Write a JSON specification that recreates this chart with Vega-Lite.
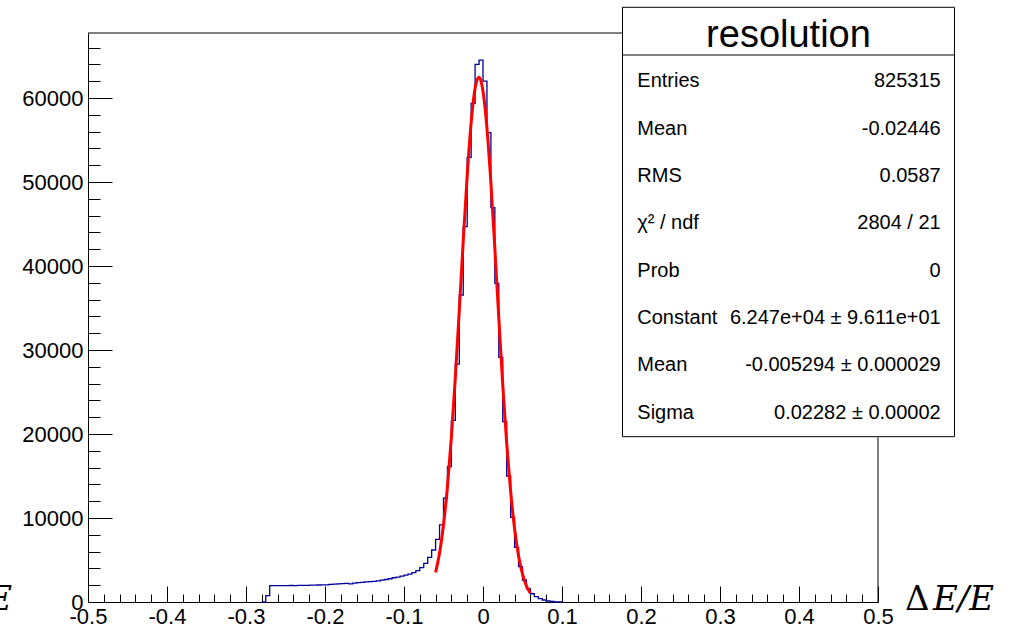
{
  "$schema": "https://vega.github.io/schema/vega-lite/v6.json",
  "width": 790,
  "height": 569,
  "autosize": {"type": "none"},
  "padding": {"left": 88, "top": 33, "right": 135, "bottom": 26},
  "background": "#ffffff",
  "config": {
    "view": {"stroke": null},
    "axis": {"grid": false, "domainColor": "#000000", "tickColor": "#000000", "labelColor": "#000000", "labelFont": "Liberation Sans", "labelFontSize": 22, "domainWidth": 1, "tickWidth": 1}
  },
  "datasets": {
    "hist": [
      {"x": -0.28, "n": 0}, {"x": -0.275, "n": 750}, {"x": -0.27, "n": 1950}, {"x": -0.265, "n": 1960},
      {"x": -0.26, "n": 1950}, {"x": -0.255, "n": 1945}, {"x": -0.25, "n": 1960}, {"x": -0.245, "n": 1965},
      {"x": -0.24, "n": 1955}, {"x": -0.235, "n": 1975}, {"x": -0.23, "n": 1985}, {"x": -0.225, "n": 1980},
      {"x": -0.22, "n": 2005}, {"x": -0.215, "n": 2000}, {"x": -0.21, "n": 2025}, {"x": -0.205, "n": 2040},
      {"x": -0.2, "n": 2030}, {"x": -0.195, "n": 2090}, {"x": -0.19, "n": 2120}, {"x": -0.185, "n": 2150},
      {"x": -0.18, "n": 2190}, {"x": -0.175, "n": 2220}, {"x": -0.17, "n": 2150}, {"x": -0.165, "n": 2250},
      {"x": -0.16, "n": 2310}, {"x": -0.155, "n": 2340}, {"x": -0.15, "n": 2390}, {"x": -0.145, "n": 2420},
      {"x": -0.14, "n": 2460}, {"x": -0.135, "n": 2510}, {"x": -0.13, "n": 2600}, {"x": -0.125, "n": 2680},
      {"x": -0.12, "n": 2770}, {"x": -0.115, "n": 2890}, {"x": -0.11, "n": 2970}, {"x": -0.105, "n": 3090},
      {"x": -0.1, "n": 3210}, {"x": -0.095, "n": 3330}, {"x": -0.09, "n": 3490}, {"x": -0.085, "n": 3730},
      {"x": -0.08, "n": 4090}, {"x": -0.075, "n": 4600}, {"x": -0.07, "n": 5320}, {"x": -0.065, "n": 6190},
      {"x": -0.06, "n": 7460}, {"x": -0.055, "n": 9170}, {"x": -0.05, "n": 12350}, {"x": -0.045, "n": 16110},
      {"x": -0.04, "n": 21630}, {"x": -0.035, "n": 28330}, {"x": -0.03, "n": 36550}, {"x": -0.025, "n": 44680},
      {"x": -0.02, "n": 52940}, {"x": -0.015, "n": 59370}, {"x": -0.01, "n": 64010}, {"x": -0.005, "n": 64520},
      {"x": 0, "n": 62020}, {"x": 0.005, "n": 55870}, {"x": 0.01, "n": 46940}, {"x": 0.015, "n": 37940},
      {"x": 0.02, "n": 29130}, {"x": 0.025, "n": 21470}, {"x": 0.03, "n": 15000}, {"x": 0.035, "n": 10080},
      {"x": 0.04, "n": 6510}, {"x": 0.045, "n": 4210}, {"x": 0.05, "n": 2620}, {"x": 0.055, "n": 1570},
      {"x": 0.06, "n": 980}, {"x": 0.065, "n": 635}, {"x": 0.07, "n": 395}, {"x": 0.075, "n": 240},
      {"x": 0.08, "n": 120}, {"x": 0.085, "n": 60}, {"x": 0.09, "n": 25}, {"x": 0.095, "n": 10},
      {"x": 0.1, "n": 0}
    ],
    "fit": [
      {"x": -0.06, "f": 3530}, {"x": -0.055, "f": 5827}, {"x": -0.05, "f": 9168}, {"x": -0.045, "f": 13749},
      {"x": -0.04, "f": 19652}, {"x": -0.035, "f": 26773}, {"x": -0.03, "f": 34765}, {"x": -0.025, "f": 43029},
      {"x": -0.02, "f": 50757}, {"x": -0.015, "f": 57068}, {"x": -0.0125, "f": 59432}, {"x": -0.01, "f": 61156},
      {"x": -0.0075, "f": 62179}, {"x": -0.005, "f": 62465}, {"x": -0.0025, "f": 62003}, {"x": 0, "f": 60811},
      {"x": 0.0025, "f": 58930}, {"x": 0.005, "f": 56427}, {"x": 0.01, "f": 49904}, {"x": 0.015, "f": 42069},
      {"x": 0.02, "f": 33798}, {"x": 0.025, "f": 25882}, {"x": 0.03, "f": 18892}, {"x": 0.035, "f": 13141},
      {"x": 0.04, "f": 8711}, {"x": 0.045, "f": 5507}, {"x": 0.05, "f": 3317}, {"x": 0.055, "f": 1903},
      {"x": 0.06, "f": 1042}
    ],
    "stats": [
      {"row": 1, "label": "Entries", "value": "825315"},
      {"row": 2, "label": "Mean", "value": "-0.02446"},
      {"row": 3, "label": "RMS", "value": "0.0587"},
      {"row": 4, "label": "χ² / ndf", "value": "2804 / 21"},
      {"row": 5, "label": "Prob", "value": "0"},
      {"row": 6, "label": "Constant", "value": "6.247e+04 ± 9.611e+01"},
      {"row": 7, "label": "Mean", "value": "-0.005294 ± 0.000029"},
      {"row": 8, "label": "Sigma", "value": "0.02282 ± 0.00002"}
    ]
  },
  "layer": [
    {
      "data": {"name": "hist"},
      "mark": {"type": "line", "interpolate": "step-after", "color": "#000099", "strokeWidth": 1.3},
      "encoding": {
        "x": {"field": "x", "type": "quantitative", "scale": {"domain": [-0.5, 0.5], "nice": false, "zero": false},
          "axis": {"orient": "bottom", "values": [-0.5, -0.4, -0.3, -0.2, -0.1, 0, 0.1, 0.2, 0.3, 0.4, 0.5], "tickSize": -16, "labels": false, "domain": true, "title": null}},
        "y": {"field": "n", "type": "quantitative", "scale": {"domain": [0, 67740], "nice": false, "zero": false},
          "axis": {"orient": "left", "values": [0, 10000, 20000, 30000, 40000, 50000, 60000], "tickSize": -24, "labels": false, "domain": true, "title": null}}
      }
    },
    {
      "data": {"name": "fit"},
      "mark": {"type": "line", "interpolate": "monotone", "color": "#ff0000", "strokeWidth": 3},
      "encoding": {
        "x": {"field": "x", "type": "quantitative", "scale": {"domain": [-0.5, 0.5], "nice": false, "zero": false},
          "axis": {"orient": "bottom", "values": [-0.48, -0.46, -0.44, -0.42, -0.38, -0.36, -0.34, -0.32, -0.28, -0.26, -0.24, -0.22, -0.18, -0.16, -0.14, -0.12, -0.08, -0.06, -0.04, -0.02, 0.02, 0.04, 0.06, 0.08, 0.12, 0.14, 0.16, 0.18, 0.22, 0.24, 0.26, 0.28, 0.32, 0.34, 0.36, 0.38, 0.42, 0.44, 0.46, 0.48], "tickSize": -8, "labels": false, "domain": false, "title": null}},
        "y": {"field": "f", "type": "quantitative", "scale": {"domain": [0, 67740], "nice": false, "zero": false},
          "axis": {"orient": "left", "values": [2000, 4000, 6000, 8000, 12000, 14000, 16000, 18000, 22000, 24000, 26000, 28000, 32000, 34000, 36000, 38000, 42000, 44000, 46000, 48000, 52000, 54000, 56000, 58000, 62000, 64000, 66000], "tickSize": -12, "labels": false, "domain": false, "title": null}}
      }
    },
    {
      "data": {"values": [{}]},
      "mark": {"type": "rule", "color": "#000000", "strokeWidth": 1},
      "encoding": {
        "x": {"datum": -0.5, "type": "quantitative", "scale": {"domain": [-0.5, 0.5], "nice": false, "zero": false},
          "axis": {"orient": "bottom", "values": [-0.5, -0.4, -0.3, -0.2, -0.1, 0, 0.1, 0.2, 0.3, 0.4, 0.5], "ticks": false, "tickSize": 0, "domain": false, "labelPadding": 4, "labelFlush": false, "labelOverlap": false, "labelExpr": "datum.value == 0 ? '0' : replace(format(datum.value, '.1f'), '−', '-')", "title": null}},
        "x2": {"datum": 0.1766},
        "y": {"datum": 67740, "type": "quantitative", "scale": {"domain": [0, 67740], "nice": false, "zero": false},
          "axis": {"orient": "left", "values": [0, 10000, 20000, 30000, 40000, 50000, 60000], "ticks": false, "tickSize": 0, "domain": false, "labelPadding": 5, "labelFlush": false, "labelOverlap": false, "format": "d", "title": null}}
      }
    },
    {
      "data": {"values": [{}]},
      "mark": {"type": "rule", "color": "#000000", "strokeWidth": 1},
      "encoding": {
        "x": {"datum": 0.5, "type": "quantitative", "scale": {"domain": [-0.5, 0.5], "nice": false, "zero": false}, "axis": null},
        "y": {"datum": 0, "type": "quantitative", "scale": {"domain": [0, 67740], "nice": false, "zero": false}, "axis": null},
        "y2": {"datum": 19600}
      }
    },
    {
      "data": {"values": [{}]},
      "mark": {"type": "rect", "fill": "#ffffff", "stroke": "#000000", "strokeWidth": 1},
      "encoding": {
        "x": {"datum": 0.1766, "type": "quantitative", "scale": {"domain": [-0.5, 0.5], "nice": false, "zero": false}, "axis": null},
        "x2": {"datum": 0.5968},
        "y": {"datum": -0.563, "type": "quantitative", "scale": {"domain": [-0.02, 12], "nice": false, "zero": false, "reverse": true}, "axis": null},
        "y2": {"datum": 8.508}
      }
    },
    {
      "data": {"values": [{}]},
      "mark": {"type": "rule", "color": "#000000", "strokeWidth": 1},
      "encoding": {
        "x": {"datum": 0.1766, "type": "quantitative", "scale": {"domain": [-0.5, 0.5], "nice": false, "zero": false}, "axis": null},
        "x2": {"datum": 0.5968},
        "y": {"datum": 0.445, "type": "quantitative", "scale": {"domain": [-0.02, 12], "nice": false, "zero": false, "reverse": true}, "axis": null}
      }
    },
    {
      "data": {"values": [{"t": "resolution"}]},
      "mark": {"type": "text", "font": "Liberation Sans", "fontSize": 38, "fill": "#000000", "align": "center", "baseline": "middle"},
      "encoding": {
        "x": {"datum": 0.3867, "type": "quantitative", "scale": {"domain": [-0.5, 0.5], "nice": false, "zero": false}, "axis": null},
        "y": {"datum": 0.037, "type": "quantitative", "scale": {"domain": [-0.02, 12], "nice": false, "zero": false, "reverse": true}, "axis": null},
        "text": {"field": "t"}
      }
    },
    {
      "data": {"name": "stats"},
      "mark": {"type": "text", "font": "Liberation Sans", "fontSize": 20, "fill": "#000000", "align": "left", "baseline": "middle"},
      "encoding": {
        "x": {"datum": 0.1953, "type": "quantitative", "scale": {"domain": [-0.5, 0.5], "nice": false, "zero": false}, "axis": null},
        "y": {"field": "row", "type": "quantitative", "scale": {"domain": [-0.02, 12], "nice": false, "zero": false, "reverse": true}, "axis": null},
        "text": {"field": "label"}
      }
    },
    {
      "data": {"name": "stats"},
      "mark": {"type": "text", "font": "Liberation Sans", "fontSize": 20, "fill": "#000000", "align": "right", "baseline": "middle"},
      "encoding": {
        "x": {"datum": 0.5794, "type": "quantitative", "scale": {"domain": [-0.5, 0.5], "nice": false, "zero": false}, "axis": null},
        "y": {"field": "row", "type": "quantitative", "scale": {"domain": [-0.02, 12], "nice": false, "zero": false, "reverse": true}, "axis": null},
        "text": {"field": "value"}
      }
    },
    {
      "data": {"values": [{"t": "Δ"}]},
      "mark": {"type": "text", "font": "DejaVu Serif", "fontSize": 34, "fill": "#000000", "align": "left", "baseline": "alphabetic"},
      "encoding": {
        "x": {"datum": 0.5342, "type": "quantitative", "scale": {"domain": [-0.5, 0.5], "nice": false, "zero": false}, "axis": null},
        "y": {"datum": -950, "type": "quantitative", "scale": {"domain": [0, 67740], "nice": false, "zero": false}, "axis": null},
        "text": {"field": "t"}
      }
    },
    {
      "data": {"values": [{"t": "E/E"}]},
      "mark": {"type": "text", "font": "DejaVu Serif", "fontStyle": "italic", "fontSize": 34, "fill": "#000000", "align": "left", "baseline": "alphabetic"},
      "encoding": {
        "x": {"datum": 0.5696, "type": "quantitative", "scale": {"domain": [-0.5, 0.5], "nice": false, "zero": false}, "axis": null},
        "y": {"datum": -950, "type": "quantitative", "scale": {"domain": [0, 67740], "nice": false, "zero": false}, "axis": null},
        "text": {"field": "t"}
      }
    },
    {
      "data": {"values": [{"t": "E/E"}]},
      "mark": {"type": "text", "font": "DejaVu Serif", "fontStyle": "italic", "fontSize": 34, "fill": "#000000", "align": "right", "baseline": "alphabetic"},
      "encoding": {
        "x": {"datum": -0.5962, "type": "quantitative", "scale": {"domain": [-0.5, 0.5], "nice": false, "zero": false}, "axis": null},
        "y": {"datum": -950, "type": "quantitative", "scale": {"domain": [0, 67740], "nice": false, "zero": false}, "axis": null},
        "text": {"field": "t"}
      }
    }
  ],
  "resolve": {"scale": {"y": "independent"}, "axis": {"x": "independent", "y": "independent"}}
}
